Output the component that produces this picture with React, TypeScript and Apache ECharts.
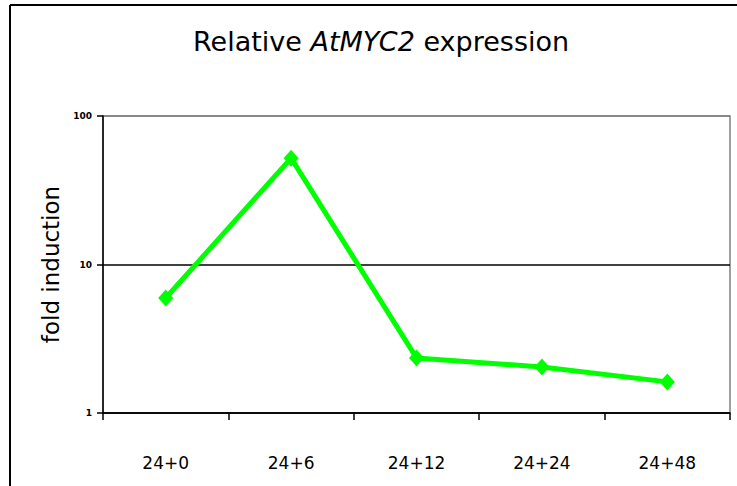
import React, { useEffect, useRef } from "react";
import * as echarts from "echarts";

const categories = ["24+0", "24+6", "24+12", "24+24", "24+48"];
const foldInduction = [5.95, 52, 2.35, 2.04, 1.62];
const yTickLabels = ["1", "10", "100"];

export default function App() {
  const ref = useRef<HTMLDivElement>(null);
  useEffect(() => {
    if (!ref.current) return;
    const chart = echarts.init(ref.current, null, { renderer: "svg" });
    chart.setOption({
      animation: false,
      backgroundColor: "#ffffff",
      title: {
        left: 188,
        top: 23,
        text: "{n|Relative }{i|AtMYC2}{n| expression}",
        textStyle: {
          fontWeight: "normal",
          rich: {
            n: { fontFamily: "DejaVu Sans", fontSize: 27, fontWeight: "normal", color: "#000" },
            i: { fontFamily: "DejaVu Sans", fontSize: 27, fontWeight: "normal", fontStyle: "italic", color: "#000" },
          },
        },
      },
      graphic: [
        { type: "line", shape: { x1: 10, y1: 5, x2: 737, y2: 5 }, style: { stroke: "#000", lineWidth: 2 } },
        { type: "line", shape: { x1: 10, y1: 5, x2: 10, y2: 486 }, style: { stroke: "#000", lineWidth: 2 } },
      ],
      grid: {
        left: 103,
        right: 7,
        top: 116,
        bottom: 73,
        show: true,
        borderColor: "#808080",
        borderWidth: 1.5,
        backgroundColor: "#ffffff",
      },
      xAxis: {
        type: "category",
        data: categories,
        boundaryGap: true,
        axisLine: { lineStyle: { color: "#000", width: 1.5 } },
        axisTick: { show: true, length: 7, lineStyle: { color: "#000", width: 1.5 } },
        axisLabel: { fontFamily: "DejaVu Sans", fontSize: 17, color: "#000", margin: 41 },
      },
      yAxis: {
        type: "log",
        logBase: 10,
        min: 1,
        max: 100,
        name: "fold induction",
        nameLocation: "middle",
        nameGap: 40,
        nameRotate: 90,
        nameTextStyle: { fontFamily: "DejaVu Sans", fontSize: 23, color: "#000" },
        axisLine: { show: true, lineStyle: { color: "#000", width: 1.5 } },
        axisTick: { show: true, length: 6, lineStyle: { color: "#000", width: 1.5 } },
        axisLabel: {
          fontFamily: "DejaVu Sans",
          fontSize: 9,
          fontWeight: "bold",
          color: "#000",
          margin: 11,
          formatter: (v: number) => {
            const idx = Math.round(Math.log10(v));
            return yTickLabels[idx] ?? "";
          },
        },
        splitLine: { show: true, lineStyle: { color: ["#000", "#000", "#808080"], width: 1.5 } },
      },
      series: [
        {
          type: "line",
          data: foldInduction,
          color: "#00ff00",
          lineStyle: { color: "#00ff00", width: 5 },
          symbol: "diamond",
          symbolSize: [15, 17],
          itemStyle: { color: "#00ff00" },
        },
      ],
    });
    return () => chart.dispose();
  }, []);
  return <div ref={ref} style={{ width: 737, height: 486, position: "absolute", left: 0, top: 0 }} />;
}
